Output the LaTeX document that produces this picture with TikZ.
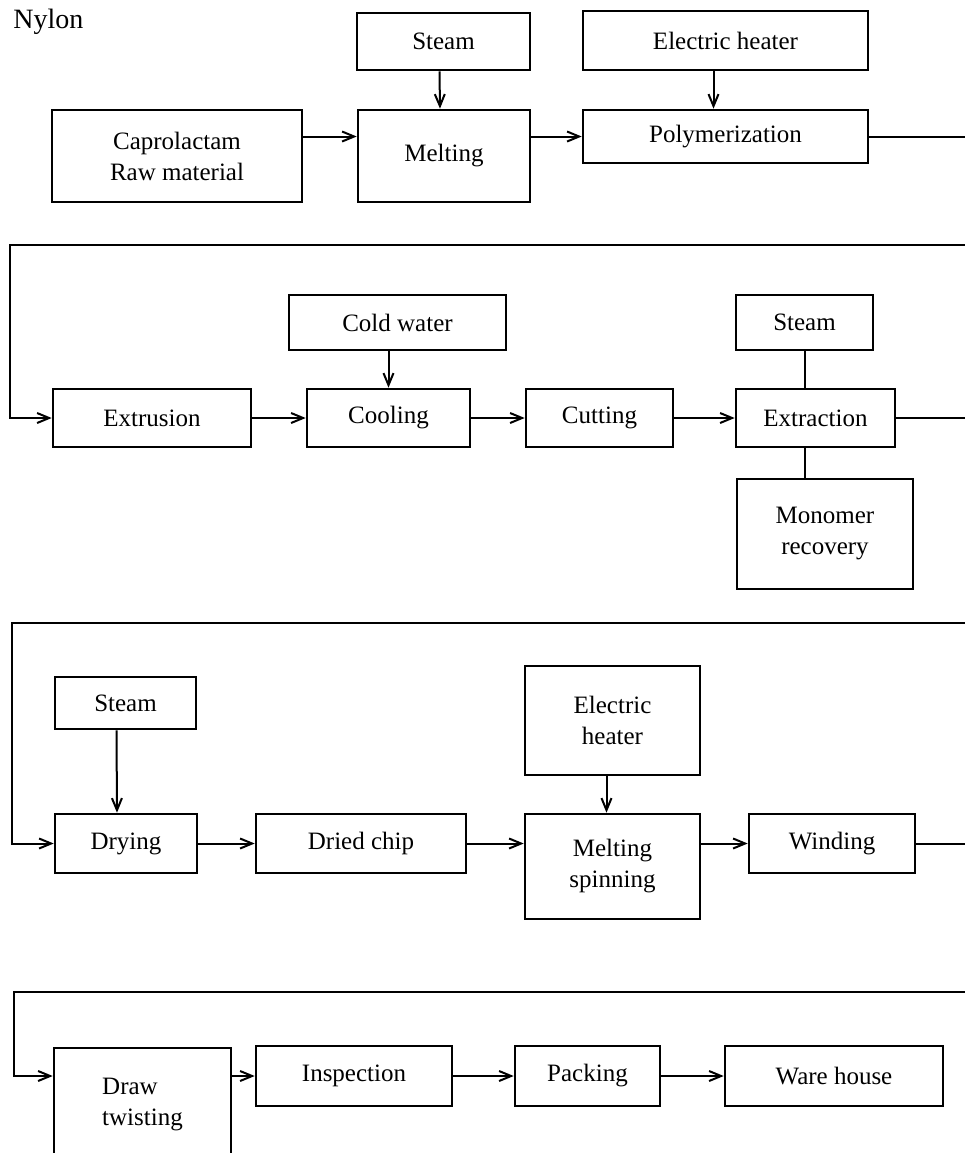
\documentclass[tikz,border=0pt]{standalone}
\usepackage{fontspec}
\setmainfont{Liberation Serif}
\usepackage{tikz}
\usetikzlibrary{arrows.meta}
\tikzset{
  stage/.style={%
    draw,
    rectangle,
    line width=1.3pt,
    inner sep=0,
    align=center,
    font=\fontsize{12.5}{15.5}\selectfont,
  },
  flow/.style={%
    line width=1pt,
  },
  >={Straight Barb[length=6pt,width=5pt]},
}
\newcommand\Stage[7][]{% name, left, top, right, bottom (page pixels), text
  \node (#2) [stage,#1,minimum width={(#5-#3)*0.5pt},minimum height={(#6-#4)*0.5pt}]
    at ({(#3+#5)/2},{(#4+#6)/2}) {#7};
}
\begin{document}
\begin{tikzpicture}[x=0.5pt,y=-0.5pt]
    \useasboundingbox (0,0) rectangle (965,1153);
    \coordinate (rEdge) at (965,0);
    \node (title) [anchor=west,inner sep=0,font=\fontsize{14}{16}\selectfont] at (13,22) {Nylon};

    \Stage{steamA}{357}{13}{530}{70}{Steam}
    \Stage{heatA}{583}{11}{868}{70}{Electric heater}
    \Stage{capro}{52}{110}{302}{202}{Caprolactam\\Raw material}
    \Stage{melt}{358}{110}{530}{202}{Melting}
    \Stage{poly}{583}{110}{868}{163}{Polymerization}
    \draw [flow,->] (poly -| capro.east) -- (poly -| melt.west);
    \draw [flow,->] (poly -| melt.east) -- (poly.west);
    \draw [flow,->] ([xshift=-2pt]steamA.south) -- ([xshift=-2pt]melt.north);
    \draw [flow,->] ([xshift=-6pt]heatA.south) -- ([xshift=-6pt]poly.north);
    \draw [flow] (poly.east) -- (poly.east -| rEdge);

    \Stage{coldw}{289}{295}{506}{350}{Cold water}
    \Stage{steamB}{736}{295}{873}{350}{Steam}
    \Stage{extru}{53}{389}{251}{447}{Extrusion}
    \Stage{cool}{307}{389}{470}{447}{Cooling}
    \Stage{cut}{526}{389}{673}{447}{Cutting}
    \Stage{extra}{736}{389}{895}{447}{Extraction}
    \Stage{monomer}{737}{479}{913}{589}{Monomer\\recovery}
    \coordinate (turnB) at (10,245);
    \draw [flow,->] (turnB -| rEdge) -- (turnB) |- (extru.west);
    \draw [flow,->] (extru) -- (cool);
    \draw [flow,->] (cool) -- (cut);
    \draw [flow,->] (cut) -- (extra);
    \draw [flow,->] (cool.north |- coldw.south) -- (cool.north);
    \draw [flow] (steamB.south) -- (steamB.south |- extra.north);
    \draw [flow] (extra.south -| steamB.south) -- (monomer.north -| steamB.south);
    \draw [flow] (extra.east) -- (extra.east -| rEdge);

    \Stage{steamC}{55}{677}{196}{729}{Steam}
    \Stage{heatC}{525}{666}{700}{775}{Electric\\heater}
    \Stage{dry}{55}{814}{197}{873}{Drying}
    \Stage{chip}{256}{814}{466}{873}{Dried chip}
    \Stage{spin}{525}{814}{700}{919}{Melting\\spinning}
    \Stage{wind}{749}{814}{915}{873}{Winding}
    \coordinate (turnC) at (12,623);
    \draw [flow,->] (turnC -| rEdge) -- (turnC) |- (dry.west);
    \draw [flow,->] (dry) -- (chip);
    \draw [flow,->] (chip.east) -- (chip.east -| spin.west);
    \draw [flow,->] (wind.west -| spin.east) -- (wind.west);
    \draw [flow,->] ([xshift=-4.5pt]steamC.south) -- ([xshift=-4.5pt]dry.north);
    \draw [flow,->] ([xshift=-3pt]heatC.south) -- ([xshift=-3pt]spin.north);
    \draw [flow] (wind.east) -- (wind.east -| rEdge);

    \Stage[align=left]{twist}{54}{1048}{231}{1160}{Draw\\twisting}
    \Stage{insp}{256}{1046}{452}{1106}{Inspection}
    \Stage{pack}{515}{1046}{660}{1106}{Packing}
    \Stage{ware}{725}{1046}{943}{1106}{Ware house}
    \coordinate (turnD) at (14,992);
    \draw [flow,->] (turnD -| rEdge) -- (turnD) |- (insp -| twist.west);
    \draw [flow,->] (insp -| twist.east) -- (insp.west);
    \draw [flow,->] (insp) -- (pack);
    \draw [flow,->] (pack) -- (ware);
\end{tikzpicture}
\end{document}
